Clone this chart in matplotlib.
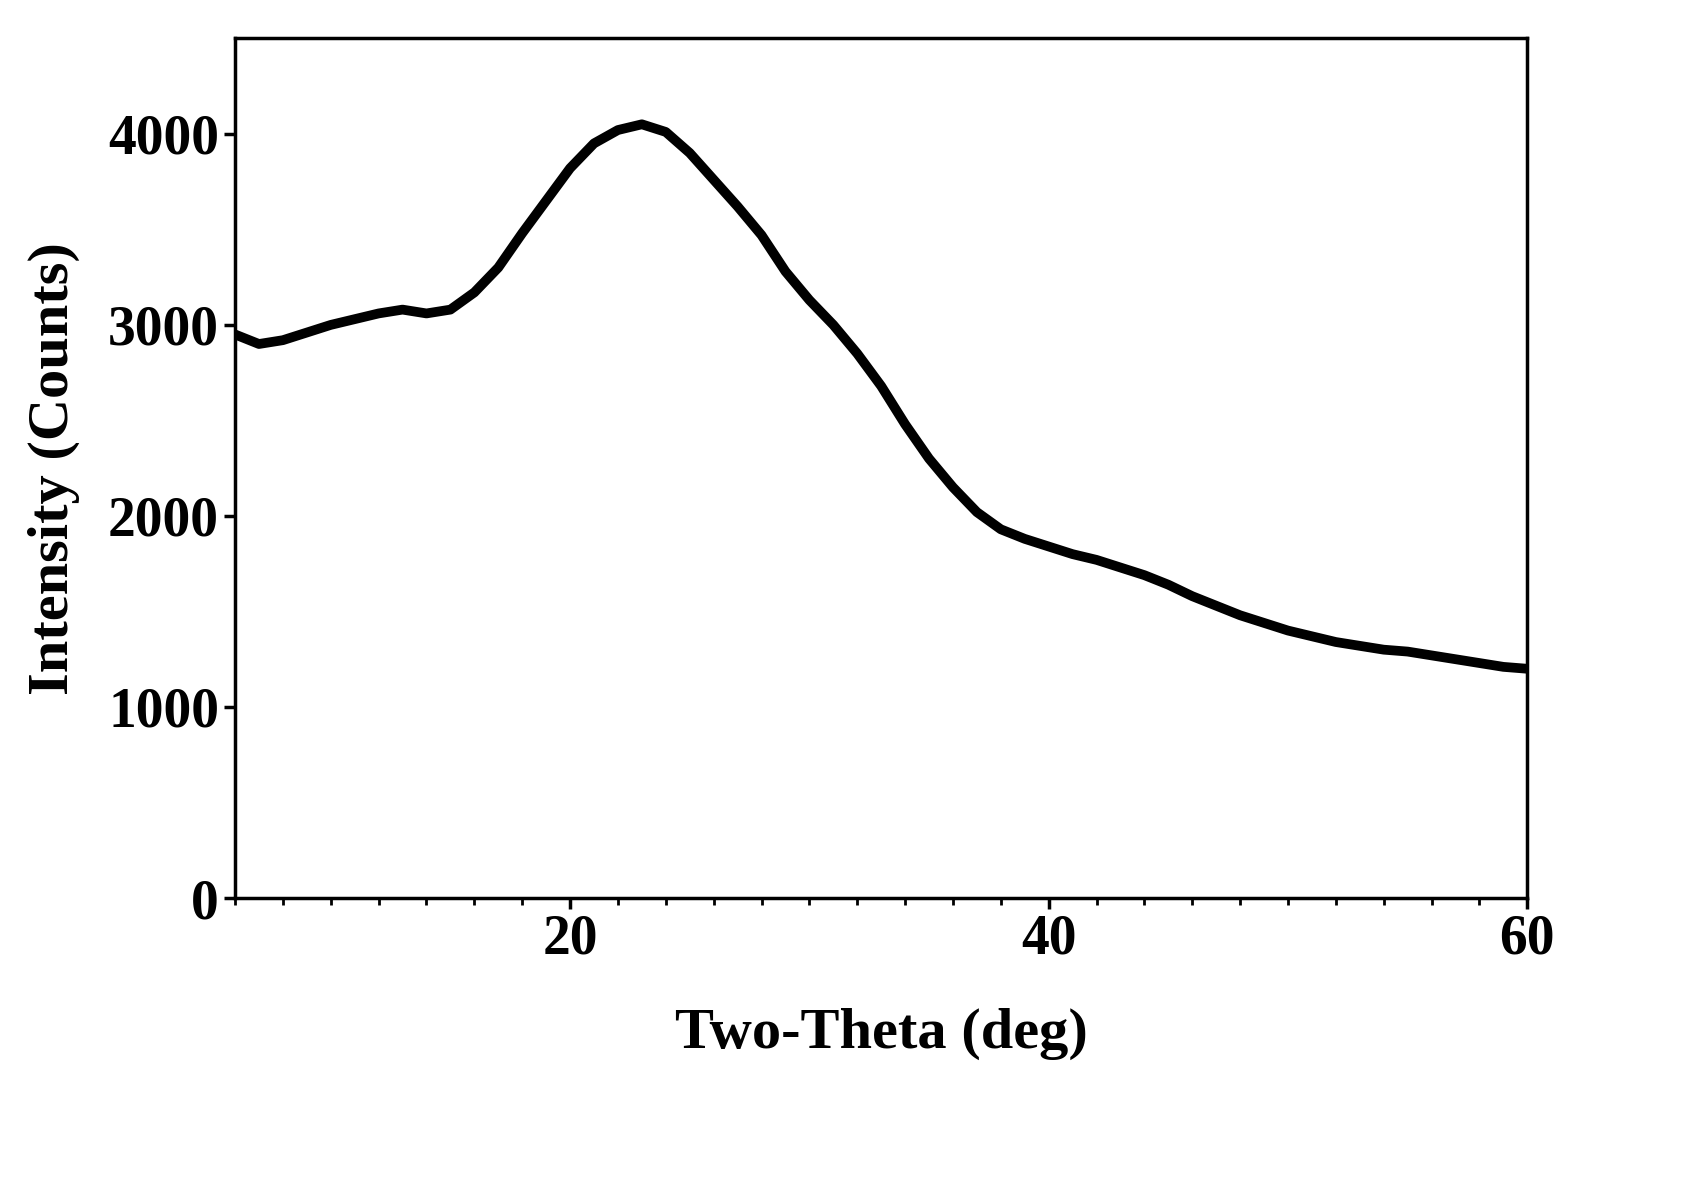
import matplotlib
matplotlib.use("Agg")
import matplotlib.pyplot as plt
from matplotlib.ticker import MultipleLocator

two_theta = list(range(6, 61))
intensity = [2950, 2900, 2920, 2960, 3000, 3030, 3060, 3080, 3060, 3080,
             3170, 3300, 3480, 3650, 3820, 3950, 4020, 4050, 4010, 3900,
             3760, 3620, 3470, 3280, 3130, 3000, 2850, 2680, 2480, 2300,
             2150, 2020, 1930, 1880, 1840, 1800, 1770, 1730, 1690, 1640,
             1580, 1530, 1480, 1440, 1400, 1370, 1340, 1320, 1300, 1290,
             1270, 1250, 1230, 1210, 1200]

plt.rcParams['font.family'] = ['Liberation Serif', 'DejaVu Serif']
plt.rcParams['font.weight'] = 'bold'
fig = plt.figure(figsize=(16.97, 11.98), dpi=100)
ax = fig.add_axes([0.1385, 0.2504, 0.7615, 0.7176])
ax.plot(two_theta, intensity, color='black', lw=7)
ax.set_xlim(6, 60)
ax.set_ylim(0, 4500)
ax.set_xticks([20, 40, 60])
ax.xaxis.set_minor_locator(MultipleLocator(2))
ax.set_yticks([0, 1000, 2000, 3000, 4000])
for s in ax.spines.values():
    s.set_linewidth(2.5)
ax.tick_params(axis='both', which='major', direction='out', length=8, width=2.5, labelsize=40)
ax.tick_params(axis='x', which='minor', direction='out', length=5, width=2)
for lab in ax.get_xticklabels() + ax.get_yticklabels():
    lab.set_fontweight('bold')
ax.set_xlabel('Two-Theta (deg)', fontsize=42, fontweight='bold', labelpad=30)
ax.set_ylabel('Intensity (Counts)', fontsize=42, fontweight='bold', labelpad=20)
fig.savefig('out.png', dpi=100)
